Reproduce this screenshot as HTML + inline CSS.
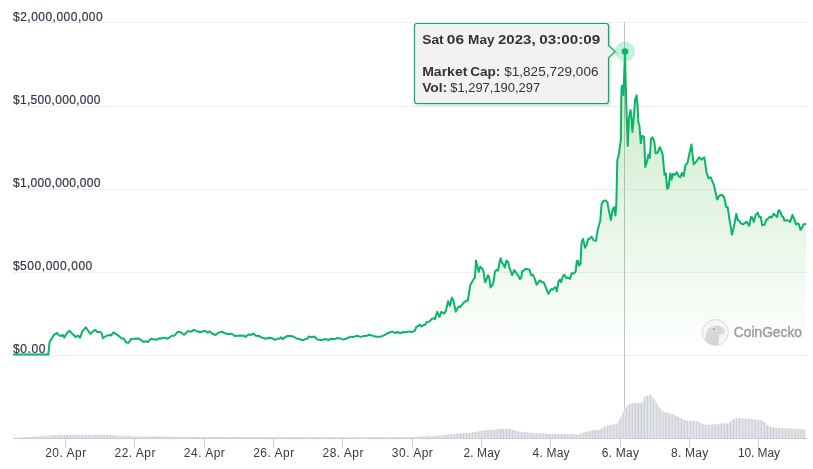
<!DOCTYPE html>
<html><head><meta charset="utf-8"><title>Market Cap Chart</title>
<style>
html,body{margin:0;padding:0;background:#fff;}
body{width:813px;height:469px;overflow:hidden;}
svg{display:block;}
</style></head><body>
<svg width="813" height="469" viewBox="0 0 813 469">
<defs>
<linearGradient id="ag" x1="0" y1="51.6" x2="0" y2="355" gradientUnits="userSpaceOnUse">
<stop offset="0" stop-color="rgb(30,170,30)" stop-opacity="0.25"/>
<stop offset="1" stop-color="rgb(30,170,30)" stop-opacity="0"/>
</linearGradient>
<pattern id="vstripe" x="0.3" width="3.07" height="10" patternUnits="userSpaceOnUse">
<rect width="3.07" height="10" fill="#e4e5e9"/>
<rect x="2.07" width="1" height="10" fill="#c8cbd4"/>
</pattern>
<filter id="sh" x="-5%" y="-5%" width="110%" height="120%"><feGaussianBlur stdDeviation="1"/></filter>
</defs>
<path d="M13 22.5 H807" stroke="#eff0f4" stroke-width="1" fill="none"/>
<path d="M13 106.5 H807" stroke="#eff0f4" stroke-width="1" fill="none"/>
<path d="M13 189.5 H807" stroke="#eff0f4" stroke-width="1" fill="none"/>
<path d="M13 272.5 H807" stroke="#eff0f4" stroke-width="1" fill="none"/>
<path d="M13 355.5 H807" stroke="#eff0f4" stroke-width="1" fill="none"/>
<path d="M624.5 22 V438" stroke="#c4c4c4" stroke-width="1" fill="none"/>
<path d="M13 354.6 L48.3 354.6 L48.8 349.5 L49.6 342.1 L51.7 338.5 L53.5 335.4 L56.9 332.9 L59.1 335.4 L60.9 336 L62.8 335 L64.2 337.6 L67.1 332.9 L69.5 330.8 L72.6 334.1 L75.7 337 L78.1 335.6 L80 337.8 L82.4 331.1 L85.8 327.4 L88 330.5 L90.4 333.9 L92.9 331.4 L95.4 329.8 L97.2 332.1 L100.3 331.9 L101.5 332.9 L103 338.2 L106.4 335.7 L110.1 335 L111.3 335.4 L113.4 332.3 L117.5 334.8 L121.2 338.2 L123.6 338.5 L126.1 342.4 L128.6 342.8 L131 339.1 L134.7 338.8 L138.1 338.5 L140.5 339.7 L143.6 341.9 L146.1 341.2 L147.9 342.1 L150.7 338.8 L153.5 339.3 L156.9 339.7 L159.6 338.2 L161.4 338.5 L163.9 337.6 L167.6 338.8 L171.9 335.7 L174.4 335.7 L177.4 332.1 L179.9 331.9 L182.4 333.5 L184.2 334.8 L187.9 331.1 L191 331.7 L194 329.8 L196.5 331.1 L200.2 332.3 L205.1 330.8 L207.6 332.7 L209.4 331.4 L212.5 333.8 L215.6 335 L218 332.9 L222.3 331.7 L224.8 333.3 L228.5 334.1 L231.8 333.8 L234.9 336 L238 335.7 L239.8 335.4 L243.5 335.7 L245.4 336.9 L248.5 334.5 L251.5 334.8 L253.4 333.5 L255.8 335.7 L258.9 336 L262 337.6 L265.7 338.8 L269.4 337.8 L271.8 338.2 L274.9 339.9 L277.4 338.8 L279.8 338.5 L281 337.2 L282.6 339.1 L285.3 337 L287.8 336 L290.3 336 L293.3 336.4 L296.4 338.5 L299.5 339.1 L302.6 340.3 L305.6 339.1 L307.5 338.5 L308.7 336.4 L311.2 337.2 L314.3 336.6 L317.3 339.4 L321 340.3 L324.7 339.1 L328.7 340 L331.2 338.7 L334.8 339.1 L337.3 337.9 L339.8 338.4 L343.5 339.6 L346.5 338.5 L350.8 336.7 L353.9 336.9 L357 335.7 L360.7 336.9 L364.4 335.9 L366.8 335.7 L369.3 334.8 L373 335.9 L376.7 336.7 L380.4 336.7 L384 335.4 L387.7 333.2 L392 331.6 L395.7 333 L397.6 332 L400.6 333.2 L403.1 332 L406.2 332.2 L408.6 331.4 L411.7 332.2 L414.8 330.8 L416.6 326.4 L418.5 326.1 L419.7 324.6 L421.6 326.4 L423.4 325.2 L425.1 324.7 L426.8 322 L429.4 321.6 L431.9 318.7 L433.6 318.2 L435 319.1 L437.1 311.7 L439.6 316.9 L441.3 311.7 L443.9 313.5 L445.6 311.7 L448.1 301.2 L449.9 305.9 L451.9 297.8 L453.3 300.3 L455.8 311.7 L458.4 306.6 L460.1 307.1 L463.5 302.9 L466.1 300.8 L467.8 300.8 L470.3 285 L471.9 282.2 L473.8 279 L474.9 277.8 L476 260.5 L477 265 L478.7 272 L480.2 266.6 L481.8 268.2 L483.4 270.7 L485 282.2 L486 281 L487.9 275.2 L489.2 277.1 L490.5 287.4 L492.4 285.4 L493.7 281 L495 271.4 L496.9 269.7 L498.2 270.7 L499.4 262.4 L500.7 258.2 L502 263 L503.5 264.3 L504.8 267.5 L506.5 260.5 L508 262 L509.7 268.4 L512.2 275.2 L514.2 270.1 L515.8 272 L517.1 274.6 L518.4 275.8 L519.9 279 L521.2 277.8 L522.2 271 L523.8 270.7 L525.3 268.8 L527.6 269.2 L529.5 269.7 L531.2 275.2 L532.7 274.6 L534 276.5 L536.6 284.8 L539.8 280.3 L541.7 282 L543.6 282.2 L545.5 286.7 L548.3 293.9 L550.2 290.4 L551.7 289 L552.8 289.7 L554.3 287.5 L555.7 287.5 L556.9 291.2 L558.4 281.9 L559.9 279.6 L561.1 282.2 L562.9 276.3 L564.4 274.8 L565.9 277.8 L568.1 277.5 L570.1 279 L571.6 273.3 L573.7 273.6 L575.6 271.8 L576.8 261.3 L577.8 260.6 L579 265.8 L580.5 263.6 L581.6 241.9 L583.1 239 L585 247.9 L586.8 244.2 L588 239.3 L589.8 238.7 L591.6 236.7 L593.4 240.1 L596 240.9 L597.7 229.8 L600.3 220.4 L601.6 204.2 L603.3 201.1 L605.7 200.4 L607.4 202.1 L608.8 210.2 L610.9 220 L612.7 209 L614 207.3 L615.5 215.5 L616.4 201.8 L617.3 160 L618.2 157.3 L619.1 152.7 L620 145.5 L620.9 140 L621.3 97 L621.7 86.5 L622.7 85.5 L623.5 95 L625 51.6 L625.5 75 L626.6 115 L627.8 146 L628.9 118 L630.6 110 L631.7 121 L632.4 132 L633.8 117 L635.2 99 L636.6 95.4 L637.6 106 L638.4 122.5 L639.4 125.3 L640.8 143.3 L642.1 136 L643.5 136.4 L644.1 137 L645.3 167 L647.3 160.6 L648.3 154.8 L649.8 158 L651.1 138.8 L652.4 137.3 L654.3 141.4 L655.6 153.5 L657.5 152.9 L659.8 147.2 L662.6 154.2 L664.5 174.7 L665.8 173.4 L667.1 188.7 L668.4 187.5 L670.3 173.4 L671.6 179.8 L672.8 174 L674.9 174.9 L676.8 172.1 L678.5 176.1 L680.3 177.2 L682 173 L683.6 176.1 L685.5 165 L687.4 163.2 L691.4 144.4 L693.7 164.3 L696.8 160.8 L699.1 157.3 L701.2 159.6 L704.3 157.3 L706.6 172.5 L708.5 178.4 L710.6 177.2 L713.7 184.3 L717.2 199.5 L719.5 195.5 L721.9 194.8 L724.2 197.2 L726.2 207 L727.6 207 L729.5 219.4 L732 234.5 L734 226.5 L736.3 213.7 L737.8 220.1 L739.3 220.7 L741 223.5 L742.9 224.3 L745.5 222.6 L746.7 221.7 L748 224.3 L749.3 225.8 L751 216.9 L752.1 217.5 L753.8 222 L755.7 214.9 L757.6 212.8 L759.3 216.9 L760.8 216.9 L762.1 225.2 L764.7 224.5 L766.2 220.1 L767.8 218.8 L769.8 216.6 L771.7 217.5 L773.6 213.7 L775.5 215.6 L777.2 216.9 L778.5 210.2 L780 211.1 L781.9 216.2 L783.2 216.9 L784.5 220.7 L786.4 220.1 L789 220.7 L790.2 222 L792.5 214.9 L794.1 218.8 L796 224.5 L797.9 223.3 L798.9 224.3 L800.5 229.9 L801.7 228.4 L803.7 224.3 L805 223.9 L806 224.8 L806 355 L13 355 Z" fill="url(#ag)" stroke="none"/>
<g>
<clipPath id="cgc"><circle cx="715.4" cy="332.5" r="12.6"/></clipPath>
<circle cx="715.4" cy="332.5" r="13" fill="#f6f6f6" stroke="#d9d9d9" stroke-width="1"/>
<path clip-path="url(#cgc)" d="M705.8 347 C705.3 341 705.3 336.5 706.4 333.2 C707.5 329.6 709.6 327.1 713 326.1 C716 325.3 719.2 325.6 721.4 327 C723.6 328.4 725.3 330.3 724.9 332.1 C724.4 333.9 722.2 334.9 719.4 335.3 C718.8 338.2 718.9 342 718.2 347 Z" fill="#d6d6d6"/>
<path d="M716.8 334.9 C718.8 335.1 720.8 334.9 722.3 334.4" stroke="#ececec" stroke-width="0.7" fill="none"/>
<circle cx="722.4" cy="331.8" r="0.9" fill="#ebebeb"/>
<circle cx="713.9" cy="329.2" r="2.3" fill="#f4f4f4"/>
<circle cx="713.9" cy="329.2" r="1.5" fill="#a9a9a9"/>
<text x="733.8" y="336.5" font-family="Liberation Sans, Arial, sans-serif" font-size="14" fill="#9d9d9d" textLength="68.2" lengthAdjust="spacingAndGlyphs" stroke="#9d9d9d" stroke-width="0.45">CoinGecko</text>
</g>
<path d="M14 438 L14 438 L20 437.5 L30 437 L45 436 L55 435 L70 434.8 L90 434.8 L110 435 L120 435.8 L140 436.3 L180 436.8 L250 437 L330 437.2 L380 437.3 L412 437.1 L434 436 L448 434.6 L456 433.8 L469 433 L480 431.1 L484 430.3 L494 429.8 L502 428.7 L510 429.2 L515 430.6 L523 431.9 L534 433 L548 433.8 L569 434.1 L578 434.6 L583 432.5 L594 430.3 L600 429.8 L604 426.7 L612 424.8 L617.4 423.4 L621.5 415.7 L624.3 409.7 L628.4 404.2 L633.9 403.1 L642.1 402.8 L644.9 396.5 L650.3 394.6 L653.1 397.3 L657.2 404.2 L662.7 411.6 L669.5 413 L677.8 416.5 L683.3 419.8 L688.7 420.7 L697 421.2 L705.2 424.8 L716.2 424.2 L721.6 423.4 L728.5 423.4 L732.6 419.3 L738.1 417.9 L747.7 418.7 L757.3 419.8 L762.8 420.7 L768.3 426.1 L775.1 427.8 L787.5 428.3 L803.9 429.4 L805.3 429.4 L805.3 438 Z" fill="url(#vstripe)" stroke="none"/>
<path d="M13 354.6 L48.3 354.6 L48.8 349.5 L49.6 342.1 L51.7 338.5 L53.5 335.4 L56.9 332.9 L59.1 335.4 L60.9 336 L62.8 335 L64.2 337.6 L67.1 332.9 L69.5 330.8 L72.6 334.1 L75.7 337 L78.1 335.6 L80 337.8 L82.4 331.1 L85.8 327.4 L88 330.5 L90.4 333.9 L92.9 331.4 L95.4 329.8 L97.2 332.1 L100.3 331.9 L101.5 332.9 L103 338.2 L106.4 335.7 L110.1 335 L111.3 335.4 L113.4 332.3 L117.5 334.8 L121.2 338.2 L123.6 338.5 L126.1 342.4 L128.6 342.8 L131 339.1 L134.7 338.8 L138.1 338.5 L140.5 339.7 L143.6 341.9 L146.1 341.2 L147.9 342.1 L150.7 338.8 L153.5 339.3 L156.9 339.7 L159.6 338.2 L161.4 338.5 L163.9 337.6 L167.6 338.8 L171.9 335.7 L174.4 335.7 L177.4 332.1 L179.9 331.9 L182.4 333.5 L184.2 334.8 L187.9 331.1 L191 331.7 L194 329.8 L196.5 331.1 L200.2 332.3 L205.1 330.8 L207.6 332.7 L209.4 331.4 L212.5 333.8 L215.6 335 L218 332.9 L222.3 331.7 L224.8 333.3 L228.5 334.1 L231.8 333.8 L234.9 336 L238 335.7 L239.8 335.4 L243.5 335.7 L245.4 336.9 L248.5 334.5 L251.5 334.8 L253.4 333.5 L255.8 335.7 L258.9 336 L262 337.6 L265.7 338.8 L269.4 337.8 L271.8 338.2 L274.9 339.9 L277.4 338.8 L279.8 338.5 L281 337.2 L282.6 339.1 L285.3 337 L287.8 336 L290.3 336 L293.3 336.4 L296.4 338.5 L299.5 339.1 L302.6 340.3 L305.6 339.1 L307.5 338.5 L308.7 336.4 L311.2 337.2 L314.3 336.6 L317.3 339.4 L321 340.3 L324.7 339.1 L328.7 340 L331.2 338.7 L334.8 339.1 L337.3 337.9 L339.8 338.4 L343.5 339.6 L346.5 338.5 L350.8 336.7 L353.9 336.9 L357 335.7 L360.7 336.9 L364.4 335.9 L366.8 335.7 L369.3 334.8 L373 335.9 L376.7 336.7 L380.4 336.7 L384 335.4 L387.7 333.2 L392 331.6 L395.7 333 L397.6 332 L400.6 333.2 L403.1 332 L406.2 332.2 L408.6 331.4 L411.7 332.2 L414.8 330.8 L416.6 326.4 L418.5 326.1 L419.7 324.6 L421.6 326.4 L423.4 325.2 L425.1 324.7 L426.8 322 L429.4 321.6 L431.9 318.7 L433.6 318.2 L435 319.1 L437.1 311.7 L439.6 316.9 L441.3 311.7 L443.9 313.5 L445.6 311.7 L448.1 301.2 L449.9 305.9 L451.9 297.8 L453.3 300.3 L455.8 311.7 L458.4 306.6 L460.1 307.1 L463.5 302.9 L466.1 300.8 L467.8 300.8 L470.3 285 L471.9 282.2 L473.8 279 L474.9 277.8 L476 260.5 L477 265 L478.7 272 L480.2 266.6 L481.8 268.2 L483.4 270.7 L485 282.2 L486 281 L487.9 275.2 L489.2 277.1 L490.5 287.4 L492.4 285.4 L493.7 281 L495 271.4 L496.9 269.7 L498.2 270.7 L499.4 262.4 L500.7 258.2 L502 263 L503.5 264.3 L504.8 267.5 L506.5 260.5 L508 262 L509.7 268.4 L512.2 275.2 L514.2 270.1 L515.8 272 L517.1 274.6 L518.4 275.8 L519.9 279 L521.2 277.8 L522.2 271 L523.8 270.7 L525.3 268.8 L527.6 269.2 L529.5 269.7 L531.2 275.2 L532.7 274.6 L534 276.5 L536.6 284.8 L539.8 280.3 L541.7 282 L543.6 282.2 L545.5 286.7 L548.3 293.9 L550.2 290.4 L551.7 289 L552.8 289.7 L554.3 287.5 L555.7 287.5 L556.9 291.2 L558.4 281.9 L559.9 279.6 L561.1 282.2 L562.9 276.3 L564.4 274.8 L565.9 277.8 L568.1 277.5 L570.1 279 L571.6 273.3 L573.7 273.6 L575.6 271.8 L576.8 261.3 L577.8 260.6 L579 265.8 L580.5 263.6 L581.6 241.9 L583.1 239 L585 247.9 L586.8 244.2 L588 239.3 L589.8 238.7 L591.6 236.7 L593.4 240.1 L596 240.9 L597.7 229.8 L600.3 220.4 L601.6 204.2 L603.3 201.1 L605.7 200.4 L607.4 202.1 L608.8 210.2 L610.9 220 L612.7 209 L614 207.3 L615.5 215.5 L616.4 201.8 L617.3 160 L618.2 157.3 L619.1 152.7 L620 145.5 L620.9 140 L621.3 97 L621.7 86.5 L622.7 85.5 L623.5 95 L625 51.6 L625.5 75 L626.6 115 L627.8 146 L628.9 118 L630.6 110 L631.7 121 L632.4 132 L633.8 117 L635.2 99 L636.6 95.4 L637.6 106 L638.4 122.5 L639.4 125.3 L640.8 143.3 L642.1 136 L643.5 136.4 L644.1 137 L645.3 167 L647.3 160.6 L648.3 154.8 L649.8 158 L651.1 138.8 L652.4 137.3 L654.3 141.4 L655.6 153.5 L657.5 152.9 L659.8 147.2 L662.6 154.2 L664.5 174.7 L665.8 173.4 L667.1 188.7 L668.4 187.5 L670.3 173.4 L671.6 179.8 L672.8 174 L674.9 174.9 L676.8 172.1 L678.5 176.1 L680.3 177.2 L682 173 L683.6 176.1 L685.5 165 L687.4 163.2 L691.4 144.4 L693.7 164.3 L696.8 160.8 L699.1 157.3 L701.2 159.6 L704.3 157.3 L706.6 172.5 L708.5 178.4 L710.6 177.2 L713.7 184.3 L717.2 199.5 L719.5 195.5 L721.9 194.8 L724.2 197.2 L726.2 207 L727.6 207 L729.5 219.4 L732 234.5 L734 226.5 L736.3 213.7 L737.8 220.1 L739.3 220.7 L741 223.5 L742.9 224.3 L745.5 222.6 L746.7 221.7 L748 224.3 L749.3 225.8 L751 216.9 L752.1 217.5 L753.8 222 L755.7 214.9 L757.6 212.8 L759.3 216.9 L760.8 216.9 L762.1 225.2 L764.7 224.5 L766.2 220.1 L767.8 218.8 L769.8 216.6 L771.7 217.5 L773.6 213.7 L775.5 215.6 L777.2 216.9 L778.5 210.2 L780 211.1 L781.9 216.2 L783.2 216.9 L784.5 220.7 L786.4 220.1 L789 220.7 L790.2 222 L792.5 214.9 L794.1 218.8 L796 224.5 L797.9 223.3 L798.9 224.3 L800.5 229.9 L801.7 228.4 L803.7 224.3 L805 223.9 L806 224.8" fill="none" stroke="#0cb469" stroke-width="2" stroke-linejoin="round" stroke-linecap="butt"/>
<path d="M13 438.5 H807" stroke="#c9cbec" stroke-width="1" fill="none"/>
<path d="M65.5 438 V448" stroke="#c9cbec" stroke-width="1" fill="none"/>
<path d="M134.5 438 V448" stroke="#c9cbec" stroke-width="1" fill="none"/>
<path d="M204.5 438 V448" stroke="#c9cbec" stroke-width="1" fill="none"/>
<path d="M273.5 438 V448" stroke="#c9cbec" stroke-width="1" fill="none"/>
<path d="M342.5 438 V448" stroke="#c9cbec" stroke-width="1" fill="none"/>
<path d="M412.5 438 V448" stroke="#c9cbec" stroke-width="1" fill="none"/>
<path d="M481.5 438 V448" stroke="#c9cbec" stroke-width="1" fill="none"/>
<path d="M550.5 438 V448" stroke="#c9cbec" stroke-width="1" fill="none"/>
<path d="M620.5 438 V448" stroke="#c9cbec" stroke-width="1" fill="none"/>
<path d="M689.5 438 V448" stroke="#c9cbec" stroke-width="1" fill="none"/>
<path d="M758.5 438 V448" stroke="#c9cbec" stroke-width="1" fill="none"/>
<text x="13" y="20.9" font-family="Liberation Sans, Arial, sans-serif" font-size="12" fill="#31364a" textLength="89.7" lengthAdjust="spacing" stroke="#31364a" stroke-width="0.2">$2,000,000,000</text>
<text x="12.9" y="104.3" font-family="Liberation Sans, Arial, sans-serif" font-size="12" fill="#31364a" textLength="87.6" lengthAdjust="spacing" stroke="#31364a" stroke-width="0.2">$1,500,000,000</text>
<text x="12.9" y="187.3" font-family="Liberation Sans, Arial, sans-serif" font-size="12" fill="#31364a" textLength="87.6" lengthAdjust="spacing" stroke="#31364a" stroke-width="0.2">$1,000,000,000</text>
<text x="12.9" y="270.3" font-family="Liberation Sans, Arial, sans-serif" font-size="12" fill="#31364a" textLength="79.4" lengthAdjust="spacing" stroke="#31364a" stroke-width="0.2">$500,000,000</text>
<text x="12.9" y="352.5" font-family="Liberation Sans, Arial, sans-serif" font-size="12" fill="#31364a" textLength="32.5" lengthAdjust="spacing" stroke="#31364a" stroke-width="0.2">$0.00</text>
<text x="45.2" y="456.8" font-family="Liberation Sans, Arial, sans-serif" font-size="12" fill="#3a3a3a" textLength="41" lengthAdjust="spacing">20. Apr</text>
<text x="114.53" y="456.8" font-family="Liberation Sans, Arial, sans-serif" font-size="12" fill="#3a3a3a" textLength="41" lengthAdjust="spacing">22. Apr</text>
<text x="183.86" y="456.8" font-family="Liberation Sans, Arial, sans-serif" font-size="12" fill="#3a3a3a" textLength="41" lengthAdjust="spacing">24. Apr</text>
<text x="253.19" y="456.8" font-family="Liberation Sans, Arial, sans-serif" font-size="12" fill="#3a3a3a" textLength="41" lengthAdjust="spacing">26. Apr</text>
<text x="322.52" y="456.8" font-family="Liberation Sans, Arial, sans-serif" font-size="12" fill="#3a3a3a" textLength="41" lengthAdjust="spacing">28. Apr</text>
<text x="391.85" y="456.8" font-family="Liberation Sans, Arial, sans-serif" font-size="12" fill="#3a3a3a" textLength="41" lengthAdjust="spacing">30. Apr</text>
<text x="463.48" y="456.8" font-family="Liberation Sans, Arial, sans-serif" font-size="12" fill="#3a3a3a" textLength="36.4" lengthAdjust="spacing">2. May</text>
<text x="532.51" y="456.8" font-family="Liberation Sans, Arial, sans-serif" font-size="12" fill="#3a3a3a" textLength="37" lengthAdjust="spacing">4. May</text>
<text x="601.79" y="456.8" font-family="Liberation Sans, Arial, sans-serif" font-size="12" fill="#3a3a3a" textLength="37.1" lengthAdjust="spacing">6. May</text>
<text x="671.12" y="456.8" font-family="Liberation Sans, Arial, sans-serif" font-size="12" fill="#3a3a3a" textLength="37.1" lengthAdjust="spacing">8. May</text>
<text x="737.9" y="456.8" font-family="Liberation Sans, Arial, sans-serif" font-size="12" fill="#3a3a3a" textLength="42.2" lengthAdjust="spacing">10. May</text>
<circle cx="625" cy="51.6" r="10" fill="#16c784" fill-opacity="0.25"/>
<circle cx="625" cy="51.6" r="3.3" fill="#0cb469"/>
<path d="M417 23.5 H606 Q608.5 23.5 608.5 26 V45.5 L615 51.6 L608.5 57.7 V101 Q608.5 103.5 606 103.5 H417 Q414.5 103.5 414.5 101 V26 Q414.5 23.5 417 23.5 Z" fill="none" stroke="#000" stroke-opacity="0.025" stroke-width="5" transform="translate(1,1)"/>
<path d="M417 23.5 H606 Q608.5 23.5 608.5 26 V45.5 L615 51.6 L608.5 57.7 V101 Q608.5 103.5 606 103.5 H417 Q414.5 103.5 414.5 101 V26 Q414.5 23.5 417 23.5 Z" fill="none" stroke="#000" stroke-opacity="0.05" stroke-width="3" transform="translate(1,1)"/>
<path d="M417 23.5 H606 Q608.5 23.5 608.5 26 V45.5 L615 51.6 L608.5 57.7 V101 Q608.5 103.5 606 103.5 H417 Q414.5 103.5 414.5 101 V26 Q414.5 23.5 417 23.5 Z" fill="none" stroke="#000" stroke-opacity="0.07" stroke-width="1" transform="translate(1,1)"/>
<path d="M417 23.5 H606 Q608.5 23.5 608.5 26 V45.5 L615 51.6 L608.5 57.7 V101 Q608.5 103.5 606 103.5 H417 Q414.5 103.5 414.5 101 V26 Q414.5 23.5 417 23.5 Z" fill="#f2f2f2" stroke="#08b066" stroke-width="1.2"/>
<text x="422.2" y="43.6" font-family="Liberation Sans, Arial, sans-serif" font-size="13" fill="#333333" textLength="21.5" lengthAdjust="spacingAndGlyphs" font-weight="bold">Sat</text>
<text x="446.8" y="43.6" font-family="Liberation Sans, Arial, sans-serif" font-size="13" fill="#333333" textLength="17.2" lengthAdjust="spacingAndGlyphs" font-weight="bold">06</text>
<text x="468.1" y="43.6" font-family="Liberation Sans, Arial, sans-serif" font-size="13" fill="#333333" textLength="26.4" lengthAdjust="spacingAndGlyphs" font-weight="bold">May</text>
<text x="497.9" y="43.6" font-family="Liberation Sans, Arial, sans-serif" font-size="13" fill="#333333" textLength="37.7" lengthAdjust="spacingAndGlyphs" font-weight="bold">2023,</text>
<text x="539.2" y="43.6" font-family="Liberation Sans, Arial, sans-serif" font-size="13" fill="#333333" textLength="61" lengthAdjust="spacingAndGlyphs" font-weight="bold">03:00:09</text>
<text x="422.2" y="75.8" font-family="Liberation Sans, Arial, sans-serif" font-size="13" fill="#333333" textLength="45.2" lengthAdjust="spacingAndGlyphs" font-weight="bold">Market</text>
<text x="470.2" y="75.8" font-family="Liberation Sans, Arial, sans-serif" font-size="13" fill="#333333" textLength="30.2" lengthAdjust="spacingAndGlyphs" font-weight="bold">Cap:</text>
<text x="504.2" y="75.8" font-family="Liberation Sans, Arial, sans-serif" font-size="13" fill="#333333" textLength="94.3" lengthAdjust="spacingAndGlyphs">$1,825,729,006</text>
<text x="422.2" y="91.8" font-family="Liberation Sans, Arial, sans-serif" font-size="13" fill="#333333" textLength="25" lengthAdjust="spacingAndGlyphs" font-weight="bold">Vol:</text>
<text x="450.2" y="91.8" font-family="Liberation Sans, Arial, sans-serif" font-size="13" fill="#333333" textLength="90" lengthAdjust="spacingAndGlyphs">$1,297,190,297</text>
</svg>
</body></html>
